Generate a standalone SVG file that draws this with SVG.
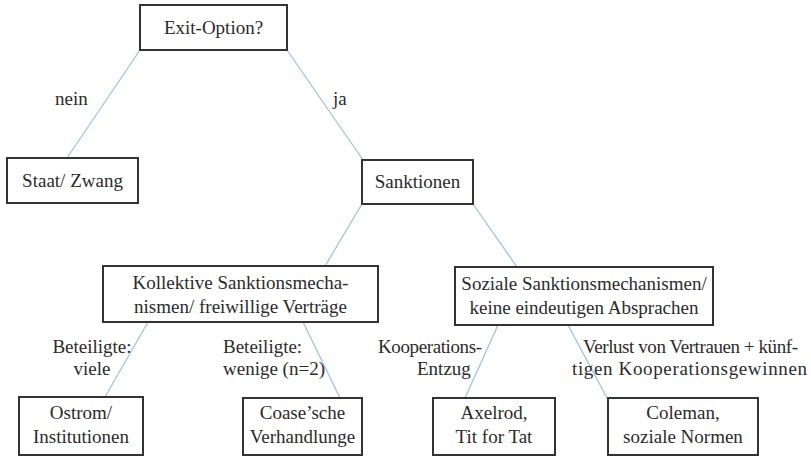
<svg xmlns="http://www.w3.org/2000/svg" width="811" height="457" viewBox="0 0 811 457">
<style>
.box{fill:#fff;stroke:#333;stroke-width:2}
.t{font-family:"Liberation Serif","Times New Roman",serif;font-size:19px;fill:#2b2b2b}
.c{text-anchor:middle}
.ln{stroke:#9dc3e6;stroke-width:1.3;fill:none}
</style>
<rect width="811" height="457" fill="#fff"/>
<g id="connectors">
<line class="ln" x1="140" y1="50" x2="67" y2="158"/>
<line class="ln" x1="287" y1="50" x2="363" y2="160"/>
<line class="ln" x1="362" y1="204" x2="325" y2="266"/>
<line class="ln" x1="473" y1="204" x2="517" y2="267"/>
<line class="ln" x1="148" y1="322" x2="105" y2="397"/>
<line class="ln" x1="303" y1="322" x2="340" y2="398"/>
<line class="ln" x1="498" y1="325" x2="465" y2="398"/>
<line class="ln" x1="568" y1="325" x2="607" y2="398"/>
</g>
<g id="labels">
<text class="t" x="55" y="105">nein</text>
<text class="t" x="333" y="105">ja</text>
<text class="t c" x="92" y="353">Beteiligte:</text>
<text class="t c" x="92" y="375">viele</text>
<text class="t" x="223" y="353">Beteiligte:</text>
<text class="t" x="223" y="375">wenige (n=2)</text>
<text class="t" x="378" y="353" textLength="104">Kooperations-</text>
<text class="t" x="417" y="375">Entzug</text>
<text class="t" x="583" y="353" textLength="215">Verlust von Vertrauen + künf-</text>
<text class="t" x="572" y="375" textLength="235">tigen Kooperationsgewinnen</text>
</g>
<g id="exit">
<rect class="box" x="140" y="5" width="147" height="45"/>
<text class="t c" x="213.5" y="34">Exit-Option?</text>
</g>
<g id="staat">
<rect class="box" x="7" y="158" width="131" height="45"/>
<text class="t c" x="72.5" y="187">Staat/ Zwang</text>
</g>
<g id="sanktionen">
<rect class="box" x="362" y="160" width="111" height="44"/>
<text class="t c" x="417.5" y="188">Sanktionen</text>
</g>
<g id="kollektive">
<rect class="box" x="103" y="266" width="275" height="56"/>
<text class="t c" x="240.5" y="289">Kollektive Sanktionsmecha-</text>
<text class="t c" x="240.5" y="313">nismen/ freiwillige Verträge</text>
</g>
<g id="soziale">
<rect class="box" x="455" y="267" width="258" height="58"/>
<text class="t c" x="584" y="290">Soziale Sanktionsmechanismen/</text>
<text class="t c" x="584" y="314">keine eindeutigen Absprachen</text>
</g>
<g id="ostrom">
<rect class="box" x="19" y="397" width="124" height="58"/>
<text class="t c" x="81" y="419">Ostrom/</text>
<text class="t c" x="81" y="443">Institutionen</text>
</g>
<g id="coase">
<rect class="box" x="243" y="398" width="119" height="57"/>
<text class="t c" x="302.5" y="419">Coase’sche</text>
<text class="t c" x="302.5" y="443">Verhandlunge</text>
</g>
<g id="axelrod">
<rect class="box" x="433" y="398" width="122" height="57"/>
<text class="t c" x="494" y="419">Axelrod,</text>
<text class="t c" x="494" y="443">Tit for Tat</text>
</g>
<g id="coleman">
<rect class="box" x="608" y="398" width="150" height="57"/>
<text class="t c" x="683" y="419">Coleman,</text>
<text class="t c" x="683" y="443">soziale Normen</text>
</g>
</svg>
